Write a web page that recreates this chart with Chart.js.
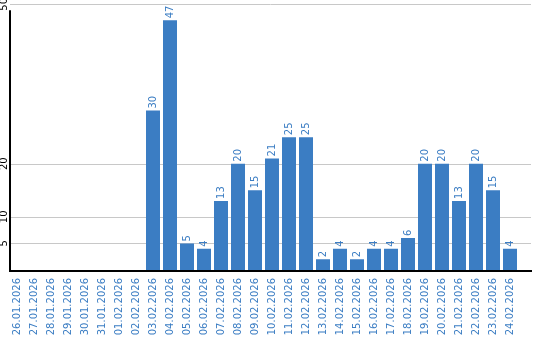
<!DOCTYPE html>
<html><head><meta charset="utf-8">
<script src="https://cdn.jsdelivr.net/npm/chart.js@4/dist/chart.umd.min.js"></script>
<style>html,body{margin:0;padding:0;background:#fff}canvas{display:block}</style>
</head><body>
<canvas id="c" width="540" height="340"></canvas>
<script>
const categories = ["26.01.2026","27.01.2026","28.01.2026","29.01.2026","30.01.2026","31.01.2026","01.02.2026","02.02.2026","03.02.2026","04.02.2026","05.02.2026","06.02.2026","07.02.2026","08.02.2026","09.02.2026","10.02.2026","11.02.2026","12.02.2026","13.02.2026","14.02.2026","15.02.2026","16.02.2026","17.02.2026","18.02.2026","19.02.2026","20.02.2026","21.02.2026","22.02.2026","23.02.2026","24.02.2026"];
const values = [0,0,0,0,0,0,0,0,30,47,5,4,13,20,15,21,25,25,2,4,2,4,4,6,20,20,13,20,15,4];
const yTicks = [5,10,20,50];
const yMax = 50;

const BLUE = '#3b7dc3';
const FONT = '10px "DejaVu Sans"';

const decor = {
  id: 'decor',
  beforeDatasetsDraw(chart) {
    const ctx = chart.ctx, y = chart.scales.y;
    const left = 10, right = 531;
    ctx.save();
    ctx.strokeStyle = '#c8c8c8'; ctx.lineWidth = 1;
    yTicks.forEach(v => {
      const py = Math.round(y.getPixelForValue(v)) + 0.5;
      ctx.beginPath(); ctx.moveTo(left, py); ctx.lineTo(right, py); ctx.stroke();
    });
    ctx.fillStyle = '#000'; ctx.font = FONT;
    ctx.textAlign = 'center'; ctx.textBaseline = 'middle';
    yTicks.forEach(v => {
      const py = y.getPixelForValue(v);
      ctx.save(); ctx.translate(4.5, py); ctx.rotate(-Math.PI/2);
      ctx.fillText(String(v), 0, 0); ctx.restore();
    });
    ctx.restore();
  },
  afterDatasetsDraw(chart) {
    const ctx = chart.ctx, y = chart.scales.y;
    const left = 10, right = 532;
    ctx.save();
    ctx.strokeStyle = '#000'; ctx.lineWidth = 2;
    const y0 = y.getPixelForValue(0);
    ctx.beginPath(); ctx.moveTo(left, y.getPixelForValue(yMax) + 6); ctx.lineTo(left, y0 + 1); ctx.lineTo(right, y0 + 1); ctx.stroke();
    ctx.fillStyle = BLUE; ctx.font = FONT; ctx.textAlign = 'left'; ctx.textBaseline = 'middle';
    const meta = chart.getDatasetMeta(0);
    meta.data.forEach((bar, i) => {
      const v = values[i];
      if (!v) return;
      ctx.save(); ctx.translate(bar.x, bar.y - 2); ctx.rotate(-Math.PI/2);
      ctx.fillText(String(v), 0, 0); ctx.restore();
    });
    ctx.restore();
  }
};

new Chart(document.getElementById('c'), {
  type: 'bar',
  data: { labels: categories, datasets: [{ data: values, backgroundColor: BLUE, barPercentage: 14/17, categoryPercentage: 1 }] },
  options: {
    responsive: false, animation: false,
    layout: { padding: { left: 8.5, right: 21.5, top: 4.3, bottom: 0 } },
    plugins: { legend: { display: false }, tooltip: { enabled: false } },
    scales: {
      x: {
        grid: { display: false, drawTicks: false }, border: { display: false },
        ticks: { color: BLUE, font: { family: 'DejaVu Sans', size: 10 }, minRotation: 90, maxRotation: 90, autoSkip: false, padding: 8 },
        afterFit(scale) { scale.height = 70; }
      },
      y: {
        min: 0, max: yMax,
        grid: { display: false, drawTicks: false }, border: { display: false },
        ticks: { display: false }
      }
    }
  },
  plugins: [decor]
});
</script>
</body></html>
